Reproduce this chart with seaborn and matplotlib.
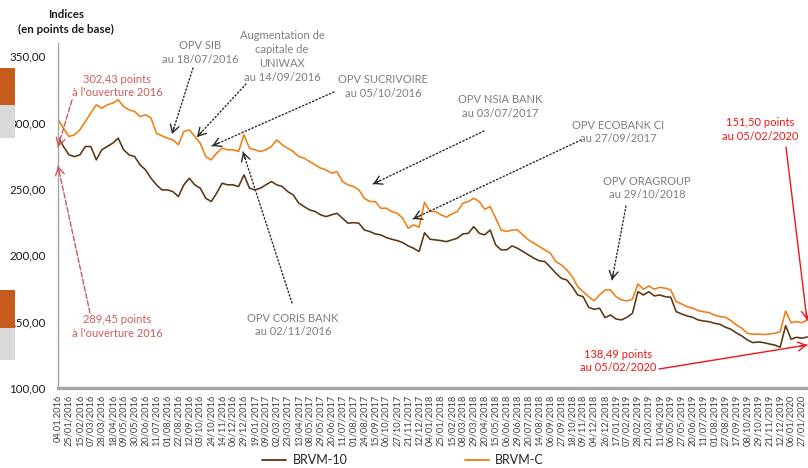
import numpy as np
import pandas as pd
import matplotlib
matplotlib.use("Agg")
import matplotlib.pyplot as plt
import seaborn as sns
from matplotlib.patches import Rectangle
from matplotlib.lines import Line2D

# ---------------- data ----------------
tick_labels = [
    "04.01.2016", "25/01/2016", "15/02/2016", "07/03/2016", "28/03/2016", "18/04/2016",
    "09/05/2016", "30/05/2016", "20/06/2016", "11/07/2016", "01/08/2016", "22/08/2016",
    "12/09/2016", "03/10/2016", "24/10/2016", "14/11/2016", "06/12/2016", "29/12/2016",
    "19/01/2017", "09/02/2017", "02/03/2017", "23/03/2017", "13/04/2017", "08/05/2017",
    "29/05/2017", "20/06/2017", "11/07/2017", "01/08/2017", "24/08/2017", "15/09/2017",
    "06/10/2017", "27/10/2017", "21/11/2017", "12/12/2017", "04/01/2018", "25/01/2018",
    "15/02/2018", "08/03/2018", "29/03/2018", "20/04/2018", "15/05/2018", "06/06/2018",
    "29/06/2018", "20/07/2018", "14/08/2018", "06/09/2018", "27/09/2018", "18/10/2018",
    "09/11/2018", "04/12/2018", "26/12/2018", "17/01/2019", "07/02/2019", "28/02/2019",
    "21/03/2019", "11/04/2019", "06/05/2019", "27/05/2019", "20/06/2019", "11/07/2019",
    "01/08/2019", "27/08/2019", "17/09/2019", "08/10/2019", "29/10/2019", "21/11/2019",
    "12/12/2019", "06/01/2020", "27/01/2020",
]
tick_step = 15      # trading days between two tick labels
sample_step = 7.5   # trading days between two readings below

brvm_c = [
    302.43, 295.8, 289.5, 290.8, 294.6, 300.8, 307.2, 313.4, 310.9, 313.4,
    314.7, 317.2, 312.1, 309.6, 308.4, 304.6, 305.9, 303.4, 292.0, 290.0,
    288.3, 287.0, 283.3, 293.3, 294.5, 289.5, 284.5, 274.4, 271.9, 277.0,
    280.7, 279.5, 279.5, 278.2, 290.8, 280.7, 279.5, 278.2, 279.5, 282.0,
    287.0, 283.2, 280.7, 278.2, 274.4, 273.2, 270.6, 268.2, 265.7, 264.4,
    261.9, 263.1, 255.6, 253.1, 251.8, 249.3, 243.0, 240.5, 240.5, 235.5,
    235.5, 233.0, 231.7, 228.0, 220.4, 222.9, 221.2, 240.0, 233.0, 233.0,
    230.5, 228.7, 231.2, 233.0, 239.3, 240.5, 243.0, 240.5, 234.7, 236.7,
    228.0, 219.1, 217.9, 219.1, 219.1, 215.4, 211.6, 209.1, 206.6, 204.1,
    201.6, 195.3, 192.8, 189.0, 183.9, 176.4, 172.6, 168.8, 165.8, 170.1,
    173.9, 173.9, 168.8, 166.4, 165.6, 166.9, 178.4, 174.4, 176.9, 174.4,
    175.9, 175.2, 173.9, 165.1, 163.3, 161.3, 160.1, 158.3, 157.5, 156.8,
    155.0, 153.8, 153.3, 150.8, 147.5, 145.0, 141.2, 140.5, 140.7, 140.2,
    140.7, 141.2, 142.5, 158.0, 149.2, 150.0, 149.2, 151.50,
]
brvm_10 = [
    289.45, 282.0, 275.7, 274.4, 275.7, 282.0, 282.0, 271.9, 279.5, 282.0,
    284.5, 288.3, 279.5, 275.7, 274.4, 268.2, 264.4, 258.1, 253.1, 249.3,
    249.3, 248.0, 244.3, 253.1, 258.1, 253.1, 250.6, 243.0, 240.5, 246.8,
    254.3, 253.1, 253.1, 251.8, 260.6, 250.6, 249.3, 250.6, 253.1, 255.6,
    253.1, 251.8, 248.0, 245.5, 239.3, 236.7, 234.2, 233.0, 230.5, 229.2,
    230.5, 231.7, 228.0, 224.2, 224.6, 224.2, 219.1, 217.9, 216.1, 215.4,
    213.4, 212.1, 211.1, 209.6, 207.1, 205.3, 202.8, 217.0, 212.1, 211.6,
    211.1, 210.3, 211.6, 212.9, 216.1, 216.6, 221.6, 216.6, 215.4, 219.1,
    207.8, 204.1, 204.1, 207.1, 205.3, 202.8, 200.3, 197.8, 195.8, 195.3,
    191.0, 186.5, 182.7, 181.4, 176.4, 170.1, 168.8, 160.8, 159.3, 160.1,
    153.0, 155.0, 152.0, 151.3, 153.3, 156.3, 172.6, 170.1, 172.6, 169.4,
    170.1, 168.8, 168.4, 157.5, 155.8, 154.3, 153.3, 151.3, 150.5, 150.0,
    148.8, 148.0, 145.8, 144.3, 141.5, 139.2, 136.2, 134.2, 134.7, 134.2,
    133.2, 132.4, 130.7, 147.0, 136.7, 138.2, 137.5, 138.49,
]
series_names = ["BRVM-10", "BRVM-C"]
y_ticks = [100, 150, 200, 250, 300, 350]

# ---------------- style ----------------
sns.set_style("white")
plt.rcParams['font.family'] = ['Lato', 'DejaVu Sans']

W, H = 808, 468
fig = plt.figure(figsize=(W / 100, H / 100), dpi=100)

def P(x, y):
    return (x / W, 1 - y / H)

ax = fig.add_axes([58 / W, 1 - 388 / H, (807.5 - 58) / W, (388 - 43) / H])

n = len(brvm_c)
days = np.arange(n) * sample_step
df = pd.DataFrame({
    "jour": np.concatenate([days, days]),
    "indice": np.array(brvm_10 + brvm_c),
    "serie": [series_names[0]] * n + [series_names[1]] * n,
})
colors = {"BRVM-10": "#5a3611", "BRVM-C": "#f07d14"}
sns.lineplot(data=df, x="jour", y="indice", hue="serie", palette=colors,
             linewidth=1.15, ax=ax, legend=False)

ax.set_xlim(0, days[-1])
ax.set_ylim(100, 360)
ax.set_xlabel("")
ax.set_ylabel("")

ax.set_xticks(np.arange(len(tick_labels)) * tick_step)
ax.set_xticklabels(tick_labels, rotation=90, fontsize=6.7, color="#404040")
ax.set_yticks(y_ticks)
ax.set_yticklabels([f"{v:.2f}".replace(".", ",") for v in y_ticks], fontsize=8.3, color="#1a1a1a")
ax.tick_params(axis="x", length=3, width=0.6, color="#a6a6a6", pad=1.5)
ax.tick_params(axis="y", length=3, width=0.8, color="#a6a6a6", pad=6)

for s in ["top", "right"]:
    ax.spines[s].set_visible(False)
ax.spines["left"].set_color("#a6a6a6")
ax.spines["left"].set_linewidth(1.0)
ax.spines["bottom"].set_color("#a6a6a6")
ax.spines["bottom"].set_linewidth(2.4)

# ---------------- title ----------------
fig.text(*P(66, 15), "Indices", ha="center", va="center", fontsize=8.3, fontweight="bold", color="#1a1a1a")
fig.text(*P(66, 29), "(en points de base)", ha="center", va="center", fontsize=8.3, fontweight="bold", color="#1a1a1a")

# ---------------- page decorations on the left edge ----------------
for (y0, y1, c) in [(68, 105, "#c55a1d"), (105, 138, "#d9d9d9"),
                    (290, 328, "#c55a1d"), (328, 360, "#d9d9d9")]:
    fig.add_artist(Rectangle(P(0, y1), 15 / W, (y1 - y0) / H, transform=fig.transFigure,
                             facecolor=c, edgecolor="none"))

# ---------------- annotations ----------------
def arrow(tail, tip, color, ls, lw=1.0):
    ax.annotate("", xy=P(*tip), xycoords="figure fraction", xytext=P(*tail),
                textcoords="figure fraction", annotation_clip=False,
                arrowprops=dict(arrowstyle="-", color=color, lw=lw, linestyle=ls,
                                shrinkA=0, shrinkB=0))
    dx, dy = tail[0] - tip[0], tail[1] - tip[1]
    L = np.hypot(dx, dy)
    back = (tip[0] + dx / L * 7, tip[1] + dy / L * 7)
    ax.annotate("", xy=P(*tip), xycoords="figure fraction", xytext=P(*back),
                textcoords="figure fraction", annotation_clip=False,
                arrowprops=dict(arrowstyle="->,head_length=0.55,head_width=0.32",
                                color=color, lw=lw, shrinkA=0, shrinkB=0))

grey = "#7f7f7f"
dark = "#2b2b2b"
notes = [
    ("OPV SIB\nau 18/07/2016", (200, 52.5), (193, 68), (172, 134)),
    ("Augmentation de\ncapitale de\nUNIWAX\nau 14/09/2016", (282, 56.5), (246, 84), (197, 137)),
    ("OPV SUCRIVOIRE\nau 05/10/2016", (383, 86.5), (334, 92), (212, 146)),
    ("OPV NSIA BANK\nau 03/07/2017", (500, 106.5), (484, 131), (373, 184)),
    ("OPV ECOBANK CI\nau 27/09/2017", (618, 132), (581, 140), (413, 219)),
    ("OPV ORAGROUP\nau 29/10/2018", (647, 188), (626, 206), (612, 280)),
    ("OPV CORIS BANK\nau 02/11/2016", (293, 325), (292, 303), (243, 152)),
]
for txt, pos, tail, tip in notes:
    fig.text(*P(*pos), txt, ha="center", va="center", fontsize=8, color=grey, linespacing=1.3)
    arrow(tail, tip, dark, ":")

red_soft = "#cf5a5a"
red = "#f01515"
fig.text(*P(117, 86), "302,43 points\nà l'ouverture 2016", ha="center", va="center",
         fontsize=8, color=red_soft, linespacing=1.3)
arrow((72, 100), (58, 147), red_soft, "--")
fig.text(*P(117, 326.5), "289,45 points\nà l'ouverture 2016", ha="center", va="center",
         fontsize=8, color=red_soft, linespacing=1.3)
arrow((90, 313), (58, 166), red_soft, "--")

fig.text(*P(760, 129.5), "151,50 points\nau 05/02/2020", ha="center", va="center",
         fontsize=8, color=red, linespacing=1.3)
arrow((786, 147), (807, 320), red, "-")
fig.text(*P(618, 361), "138,49 points\nau 05/02/2020", ha="center", va="center",
         fontsize=8, color=red, linespacing=1.3)
arrow((659, 369), (807, 345), red, "-")

# ---------------- legend ----------------
handles = [Line2D([], [], color=colors[s], lw=1.3) for s in series_names]
fig.legend(handles, series_names, loc="center", bbox_to_anchor=P(403, 460), ncol=2,
           frameon=False, fontsize=9, handlelength=1.9, handletextpad=0.5,
           columnspacing=9.4, borderaxespad=0, borderpad=0)

fig.savefig("out.png", dpi=100)
